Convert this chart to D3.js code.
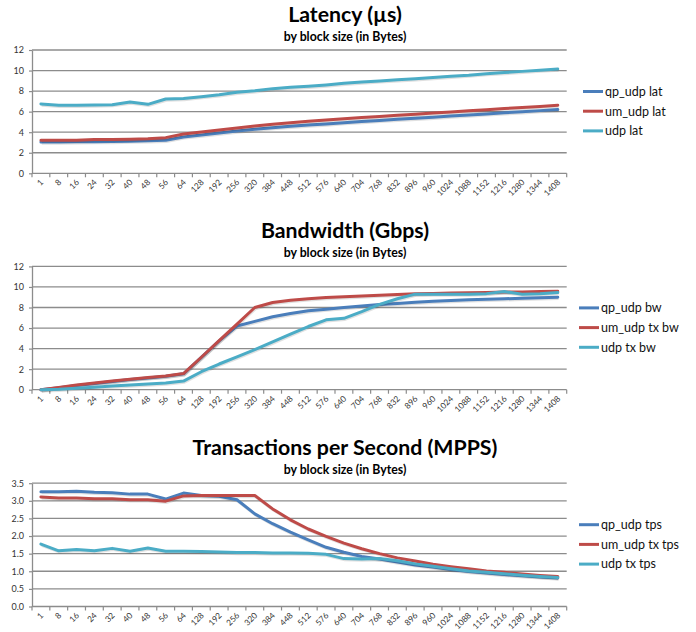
<!DOCTYPE html>
<html>
<head>
<meta charset="utf-8">
<script src="https://cdn.jsdelivr.net/npm/d3@7"></script>
<style>
  body { margin: 0; background: #fff; }
  svg { display: block; font-family: Lato, "Liberation Sans", sans-serif; }
</style>
</head>
<body>
<svg id="chart" width="696" height="632"></svg>
<script>
// категории по оси X (размер блока в байтах)
const blockSizes = ["1","8","16","24","32","40","48","56","64","128","192","256","320","384","448","512",
  "576","640","704","768","832","896","960","1024","1088","1152","1216","1280","1344","1408"];

// Latency (µs)
const latQp  = [3.05,3.05,3.06,3.08,3.1,3.13,3.17,3.21,3.54,3.73,3.92,4.12,4.28,4.44,4.57,4.7,4.8,4.93,
  5.04,5.15,5.25,5.36,5.46,5.57,5.67,5.78,5.89,5.99,6.1,6.2];
const latUm  = [3.21,3.22,3.22,3.28,3.28,3.32,3.37,3.47,3.83,4.02,4.22,4.41,4.6,4.77,4.93,5.06,5.19,5.32,
  5.43,5.53,5.64,5.75,5.86,5.97,6.08,6.19,6.3,6.41,6.51,6.62];
const latUdp = [6.75,6.62,6.62,6.65,6.68,6.94,6.71,7.23,7.27,7.46,7.65,7.88,8.04,8.24,8.37,8.47,8.6,8.76,
  8.88,8.99,9.1,9.2,9.33,9.45,9.55,9.7,9.8,9.92,10.04,10.15];

// Bandwidth (Gbps)
const bwQp  = [0,0.2,0.4,0.6,0.8,1.0,1.15,1.3,1.55,3.15,4.75,6.2,6.65,7.1,7.42,7.68,7.84,8.0,
  8.15,8.3,8.4,8.5,8.6,8.68,8.75,8.8,8.85,8.9,8.95,9.0];
const bwUm  = [0,0.22,0.45,0.65,0.85,1.02,1.18,1.33,1.57,3.16,4.77,6.39,8.0,8.48,8.7,8.84,8.97,9.05,
  9.12,9.2,9.27,9.33,9.37,9.4,9.43,9.46,9.5,9.52,9.55,9.58];
const bwUdp = [0,0.05,0.15,0.25,0.35,0.45,0.55,0.65,0.84,1.75,2.5,3.2,3.9,4.65,5.4,6.15,6.8,6.95,
  7.6,8.3,8.85,9.3,9.3,9.3,9.3,9.35,9.55,9.3,9.35,9.45];

// Transactions per Second (MPPS)
const tpsQp  = [3.26,3.26,3.27,3.24,3.23,3.19,3.19,3.05,3.22,3.15,3.13,3.03,2.63,2.35,2.11,1.89,1.68,1.54,
  1.42,1.35,1.26,1.18,1.12,1.05,0.99,0.95,0.91,0.87,0.84,0.81];
const tpsUm  = [3.11,3.08,3.08,3.06,3.06,3.03,3.03,2.99,3.14,3.15,3.15,3.15,3.15,2.77,2.46,2.2,1.99,1.8,
  1.64,1.5,1.38,1.29,1.2,1.13,1.07,1.01,0.97,0.92,0.88,0.85];
const tpsUdp = [1.77,1.58,1.62,1.58,1.65,1.57,1.66,1.57,1.57,1.56,1.55,1.53,1.53,1.52,1.52,1.51,1.48,1.36,
  1.35,1.36,1.3,1.21,1.14,1.07,1.01,0.97,0.93,0.89,0.85,0.82];

// деления осей Y
const latTicks = [0,2,4,6,8,10,12];
const bwTicks  = [0,2,4,6,8,10,12];
const tpsTicks = [0,0.5,1,1.5,2,2.5,3,3.5];

const titles    = ["Latency (µs)", "Bandwidth (Gbps)", "Transactions per Second (MPPS)"];
const subtitle  = "by block size (in Bytes)";
const latNames  = ["qp_udp lat", "um_udp lat", "udp lat"];
const bwNames   = ["qp_udp bw", "um_udp tx bw", "udp tx bw"];
const tpsNames  = ["qp_udp tps", "um_udp tx tps", "udp tx tps"];

const colors = ["#4a7ebb", "#be4b48", "#4bacc6"];

const area = {
  left: 32,
  right: 566.7,
  plotTop: 50,
  plotBottom: 173.3,
  offsets: [0, 216.4, 433.2],
  legendX: [583, 579, 579]
};

const panels = [
  { title: titles[0], ticks: latTicks, names: latNames, values: [latQp, latUm, latUdp] },
  { title: titles[1], ticks: bwTicks,  names: bwNames,  values: [bwQp, bwUm, bwUdp] },
  { title: titles[2], ticks: tpsTicks, names: tpsNames, values: [tpsQp, tpsUm, tpsUdp] }
];

const svg = d3.select("#chart");
svg.append("rect").attr("width", 696).attr("height", 632).attr("fill", "#fff");

const x = d3.scaleBand()
  .domain(blockSizes)
  .range([area.left, area.right])
  .padding(0);

panels.forEach((p, i) => {
  const g = svg.append("g").attr("transform", `translate(0, ${area.offsets[i]})`);

  const y = d3.scaleLinear()
    .domain([0, d3.max(p.ticks)])
    .range([area.plotBottom, area.plotTop]);

  // заголовки
  g.append("text")
    .attr("x", 345).attr("y", 21.7)
    .attr("text-anchor", "middle")
    .attr("font-size", 21.3).attr("font-weight", "bold")
    .attr("fill", "#000")
    .text(p.title);
  g.append("text")
    .attr("x", 345).attr("y", 40.5)
    .attr("text-anchor", "middle")
    .attr("font-size", 12.3).attr("font-weight", "bold")
    .attr("fill", "#000")
    .text(subtitle);

  // сетка
  g.selectAll(".grid")
    .data(p.ticks.slice(1))
    .enter()
    .append("line")
    .attr("x1", area.left).attr("x2", area.right)
    .attr("y1", d => y(d)).attr("y2", d => y(d))
    .attr("stroke", "#8c8c8c").attr("stroke-width", 1.3);

  // ось Y
  const gy = g.append("g")
    .attr("transform", `translate(${area.left}, 0)`)
    .call(d3.axisLeft(y).tickValues(p.ticks).tickSize(3).tickPadding(5).tickSizeOuter(0));
  gy.select(".domain").attr("stroke", "#8c8c8c").attr("stroke-width", 1.3);
  gy.selectAll(".tick line").attr("stroke", "#8c8c8c").attr("stroke-width", 1.2);
  gy.selectAll(".tick text")
    .attr("font-family", "Lato, sans-serif").attr("font-size", 9).attr("fill", "#333");

  // ось X: подписи по центру, деления на границах категорий
  const gx = g.append("g")
    .attr("transform", `translate(0, ${area.plotBottom})`);
  gx.append("line")
    .attr("x1", area.left).attr("x2", area.right)
    .attr("stroke", "#8c8c8c").attr("stroke-width", 1.3);
  gx.selectAll(".xtick")
    .data(blockSizes.concat(["end"]))
    .enter()
    .append("line")
    .attr("x1", d => d === "end" ? area.right : x(d))
    .attr("x2", d => d === "end" ? area.right : x(d))
    .attr("y1", 0).attr("y2", 4)
    .attr("stroke", "#8c8c8c").attr("stroke-width", 1.2);
  gx.selectAll(".xlabel")
    .data(blockSizes)
    .enter()
    .append("text")
    .attr("transform", d => `translate(${x(d) + x.bandwidth() / 2 + 1}, 7.5) rotate(-45)`)
    .attr("text-anchor", "end")
    .attr("dy", "0.35em")
    .attr("font-size", 8.3).attr("fill", "#333")
    .text(d => d);

  // линии серий
  const line = d3.line()
    .x((d, k) => x(blockSizes[k]) + x.bandwidth() / 2)
    .y(d => y(d));

  p.values.forEach((vals, s) => {
    g.append("path")
      .datum(vals)
      .attr("fill", "none")
      .attr("stroke", "rgba(0,0,0,0.12)")
      .attr("stroke-width", 3)
      .attr("transform", "translate(0.8, 1.2)")
      .attr("d", line);
    g.append("path")
      .datum(vals)
      .attr("fill", "none")
      .attr("stroke", colors[s])
      .attr("stroke-width", 3)
      .attr("stroke-linejoin", "round")
      .attr("stroke-linecap", "round")
      .attr("d", line);
  });

  // легенда
  const lx = area.legendX[i];
  const legend = g.selectAll(".legend")
    .data(p.names)
    .enter()
    .append("g")
    .attr("transform", (d, s) => `translate(${lx}, ${area.plotTop + 41.5 + s * 19.7})`);
  legend.append("line")
    .attr("x1", 0).attr("x2", 20)
    .attr("stroke", (d, s) => colors[s])
    .attr("stroke-width", 3);
  legend.append("text")
    .attr("x", 22).attr("dy", "0.35em")
    .attr("font-size", 12.5).attr("fill", "#111")
    .text(d => d);
});
</script>
</body>
</html>
